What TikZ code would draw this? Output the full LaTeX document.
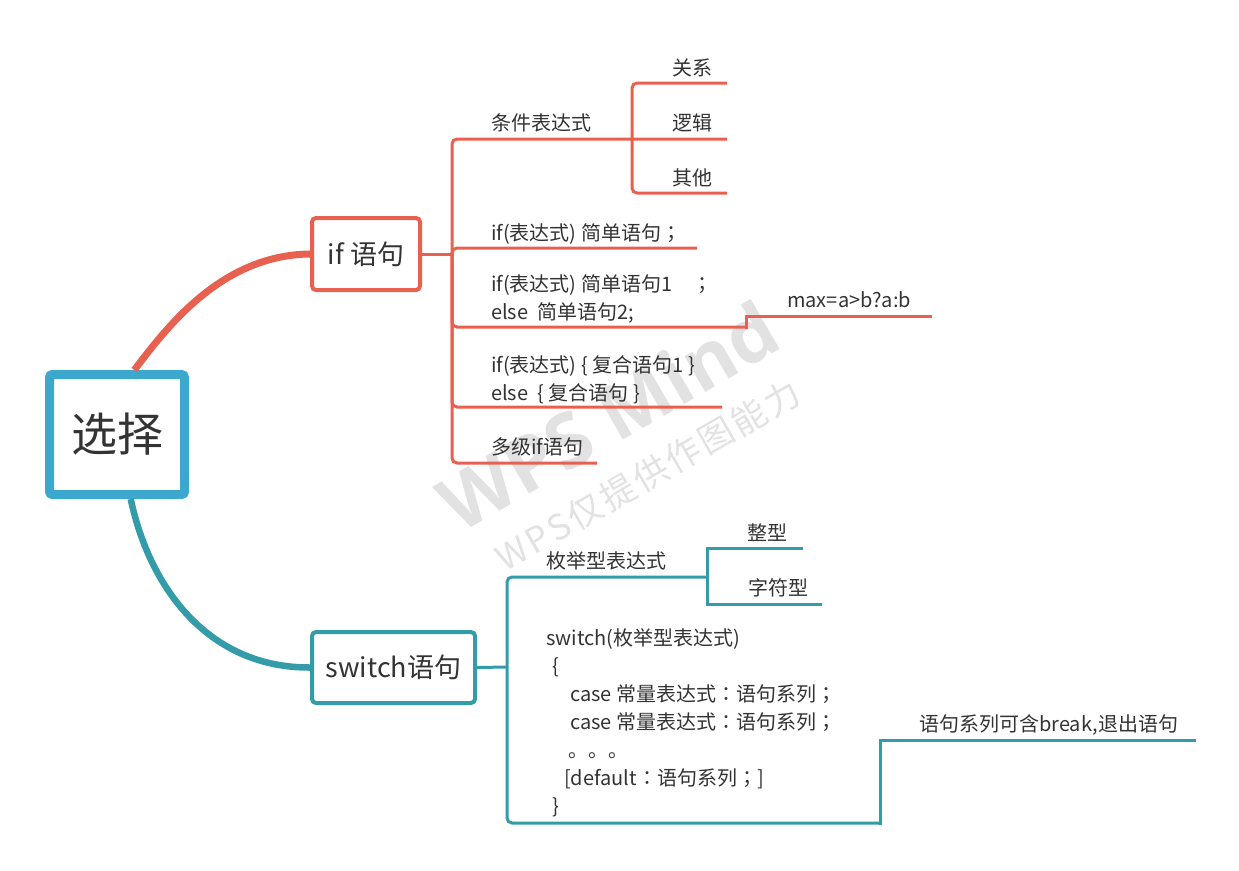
\documentclass[tikz,border=0pt]{standalone}
\usepackage{fontspec}
\setmainfont{Noto Sans CJK SC}
\newfontfamily\jpp{Noto Sans CJK JP}
\newfontfamily\wmfont{Open Sans}
\newfontfamily\wmcjk{Noto Sans CJK SC}[LetterSpace=8]
\newcommand{\fcolon}{{\jpp ：}}
\newcommand{\fsemi}{{\jpp ；}}
\definecolor{ifred}{RGB}{232,96,80}
\definecolor{rootblue}{RGB}{60,168,205}
\definecolor{swteal}{RGB}{52,156,168}
\definecolor{txtgray}{RGB}{51,51,51}
\definecolor{wmgray}{RGB}{226,226,226}

\begin{document}
\begin{tikzpicture}[
  x=1pt, y=-1pt,
  root/.style={draw=rootblue, line width=9pt, rounded corners=3pt, minimum width=135pt, minimum height=120pt, text=txtgray, font=\fontsize{46}{50}\selectfont},
  topic/.style={draw, line width=4pt, rounded corners=4pt, minimum height=72pt, text=txtgray, font=\fontsize{27}{30}\selectfont},
  leaf/.style={inner sep=0pt, anchor=base west, align=left, text=txtgray, font=\fontsize{20}{28}\selectfont},
  redline/.style={draw=ifred, line width=3pt},
  tealline/.style={draw=swteal, line width=3pt},
  wmark/.style={text=wmgray, rotate=30}
]
\useasboundingbox (0,0) rectangle (1239,870);

% watermark
\node[wmark, font=\wmfont\bfseries\fontsize{76}{76}\selectfont] (wmA) at (608,416) {WPS Mind};
\node[wmark, font=\wmcjk\fontsize{35}{35}\selectfont] (wmB) at (648,475) {WPS仅提供作图能力};

\node[root] (root) at (117,434.5) {选择};
\node[topic, draw=ifred, minimum width=108pt] (ifst) at (366,254) {if 语句};
\node[topic, draw=swteal, minimum width=163pt, minimum height=71pt] (swst) at (393.5,667.5) {switch语句};

\draw[draw=ifred, line width=7pt] (root.75) .. controls (165,330) and (220,255) .. (ifst.west);
\draw[draw=swteal, line width=6.5pt] (root.-78) .. controls (150,590) and (210,668) .. (swst.west);

% if branch
\node[leaf] (cond) at (491,130) {条件表达式};
\node[leaf] (rel) at (672,75) {关系};
\node[leaf] (logi) at (672,130) {逻辑};
\node[leaf] (oth) at (672,185) {其他};
\node[leaf] (simp) at (491,240) {if(表达式) 简单语句\fsemi};
\node[leaf] (ifelse) at (491,319) {if(表达式) 简单语句1\quad\fsemi\\else\ \ 简单语句2;};
\node[leaf] (maxst) at (787,307) {max=a>b?a:b};
\node[leaf] (comp) at (491,400) {if(表达式) \{ 复合语句1 \}\\else\ \ \{ 复合语句 \}};
\node[leaf] (multi) at (491,454) {多级if语句};

\coordinate (ifj) at (452,254);
\coordinate (condj) at (632,139);
\coordinate (relend) at (727,83);
\coordinate (logend) at (727,139);
\coordinate (othend) at (727,193);
\coordinate (simend) at (697,248);
\coordinate (elsestep) at (746,327);
\coordinate (maxj) at (746,316);
\coordinate (maxend) at (930,316);
\coordinate (compend) at (722,407);
\coordinate (multend) at (597,463);

\draw[redline] (ifst.east) -- (ifj);
\draw[redline, rounded corners=5pt] (ifj) |- (condj) -- (logend);
\draw[redline, rounded corners=5pt] (relend) -| (condj) |- (othend);
\draw[redline, rounded corners=5pt] (ifj) |- (simend);
\draw[redline, rounded corners=5pt] (ifj) |- (elsestep);
\draw[redline, line cap=rect] (elsestep) -- (maxj) -- (maxend);
\draw[redline, rounded corners=5pt] (ifj) |- (compend);
\draw[redline, rounded corners=5pt] (ifj) |- (multend);

% switch branch
\node[leaf] (enum) at (546,568) {枚举型表达式};
\node[leaf] (intg) at (747,540) {整型};
\node[leaf] (chr) at (748,595) {字符型};
\node[leaf] (code) at (546,813) {switch(枚举型表达式)\\
  \hspace*{6pt}\{\\
  \hspace*{24pt}case 常量表达式\fcolon 语句系列\fsemi\\
  \hspace*{24pt}case 常量表达式\fcolon 语句系列\fsemi\\
  \hspace*{22pt}。。。\\
  \hspace*{18pt}[default\fcolon 语句系列\fsemi]\\
  \hspace*{6pt}\}};
\node[leaf] (brk) at (919,731) {语句系列可含break,退出语句};

\coordinate (swj) at (507,667);
\coordinate (enumj) at (707,577);
\coordinate (intend) at (803,548);
\coordinate (chrend) at (822,604);
\coordinate (codej) at (880,823);
\coordinate (brkend) at (1194,740);

\draw[tealline] (swst.east) -- (swj);
\draw[tealline, rounded corners=5pt] (swj) |- (enumj);
\draw[tealline] (intend) -| (enumj) |- (chrend);
\draw[tealline, rounded corners=5pt] (swj) |- (codej);
\draw[tealline, line cap=rect] (codej) |- (brkend);
\end{tikzpicture}
\end{document}
